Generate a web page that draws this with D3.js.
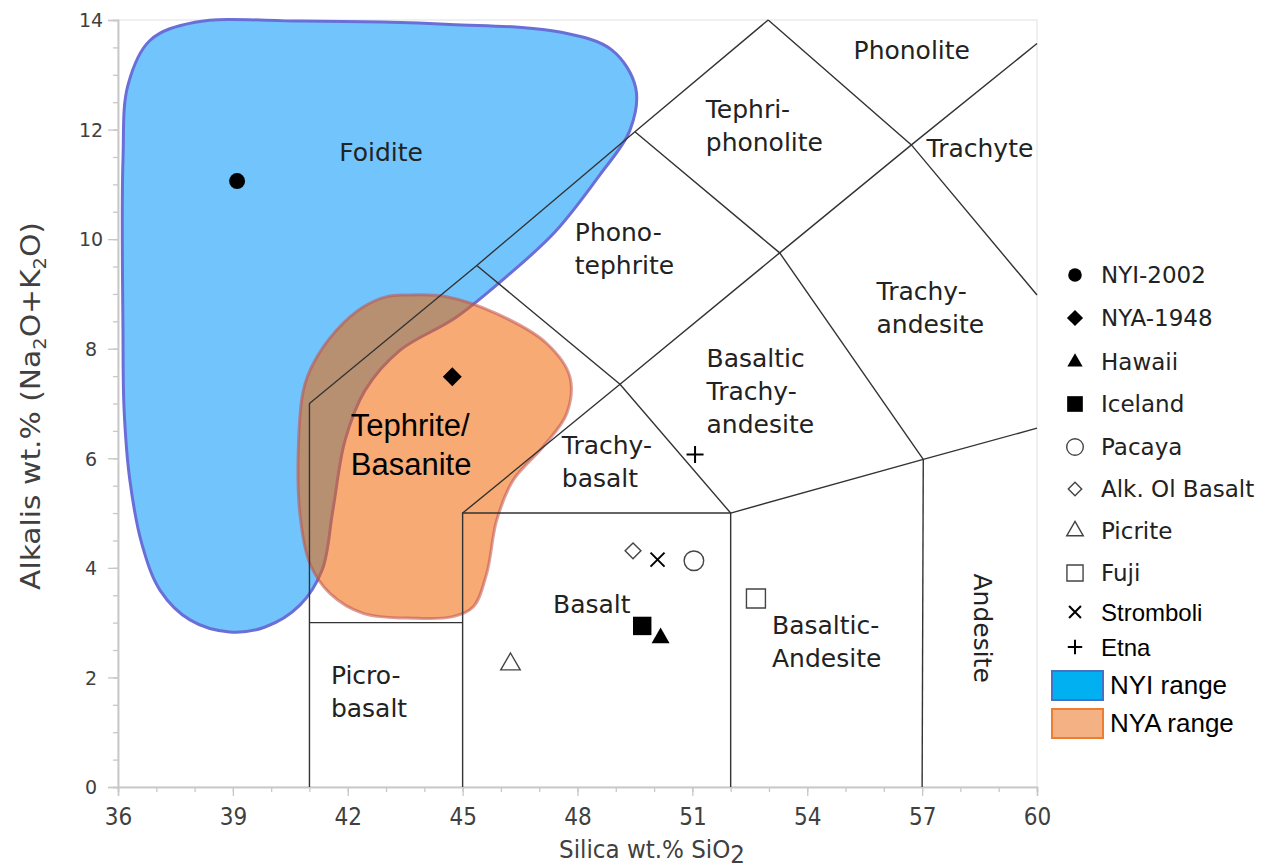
<!DOCTYPE html>
<html>
<head>
<meta charset="utf-8">
<script src="https://cdnjs.cloudflare.com/ajax/libs/d3/7.8.5/d3.min.js"></script>
<style>
  body { margin: 0; background: #fff; }
  svg { display: block; }
</style>
</head>
<body>
<svg id="tas" width="1272" height="868"></svg>
<script>
// axis ticks
var xTicks = [36, 39, 42, 45, 48, 51, 54, 57, 60];
var yTicks = [0, 2, 4, 6, 8, 10, 12, 14];

// TAS field boundaries, [SiO2, Na2O+K2O]
var boundaries = [
  [[41, 0], [41, 7], [45.37, 9.52], [49.5, 11.96], [52.98, 14]],
  [[41, 3], [45, 3]],
  [[45, 0], [45, 5], [52, 5], [52, 0]],
  [[45, 5], [49.11, 7.35], [53.28, 9.75], [56.72, 11.72], [60, 13.57]],
  [[45.37, 9.52], [49.11, 7.35], [52, 5]],
  [[49.5, 11.96], [53.28, 9.75], [57.03, 5.98]],
  [[52.98, 14], [56.72, 11.72], [60, 8.98]],
  [[52, 5], [57.03, 5.98], [60, 6.55]],
  [[57, 0], [57.03, 5.98]]
];

// field names (lines of text) and where they sit, in data units
var fieldNames = [
  ["Foidite"], ["Phonolite"], ["Tephri-", "phonolite"], ["Trachyte"],
  ["Phono-", "tephrite"], ["Trachy-", "andesite"], ["Basaltic", "Trachy-", "andesite"],
  ["Trachy-", "basalt"], ["Basalt"], ["Picro-", "basalt"], ["Basaltic-", "Andesite"]
];
var fieldPos = [
  [42.87, 11.42, "middle"], [56.73, 13.28, "middle"], [51.35, 12.21, "start"], [58.51, 11.5, "middle"],
  [47.93, 9.97, "start"], [55.81, 8.89, "start"], [51.37, 7.66, "start"],
  [47.59, 6.08, "start"], [47.36, 3.18, "start"], [41.56, 1.88, "start"], [53.08, 2.79, "start"]
];

// samples
var sampleNames = ["NYI-2002", "NYA-1948", "Hawaii", "Iceland", "Pacaya",
                   "Alk. Ol Basalt", "Picrite", "Fuji", "Stromboli", "Etna"];
var silica = [39.11, 44.73, 50.17, 49.69, 51.04, 49.45, 46.25, 52.66, 50.09, 51.07];
var alkalis = [11.06, 7.49, 2.72, 2.94, 4.13, 4.31, 2.24, 3.44, 4.15, 6.07];
var shapes = ["circle", "diamond", "triangle", "square", "ocircle",
              "odiamond", "otriangle", "osquare", "times", "plus"];

// outlines of the two ranges
var nyiRange = [
  [36.13, 8.34], [36.13, 11.44], [36.26, 12.81], [36.84, 13.63], [38.01, 13.96],
  [40.75, 13.98], [44.67, 13.92], [47.54, 13.78], [48.90, 13.45], [49.52, 12.76],
  [49.37, 11.99], [48.58, 11.17], [47.41, 10.13], [46.10, 9.29], [44.80, 8.56],
  [43.36, 7.97], [42.45, 7.24], [41.93, 6.33], [41.61, 5.05], [41.33, 3.96],
  [40.75, 3.32], [39.84, 2.92], [38.92, 2.83], [37.88, 3.05], [37.10, 3.59],
  [36.63, 4.42], [36.31, 5.60], [36.16, 6.88]
];
var nyaRange = [
  [43.54, 8.98], [44.58, 8.95], [45.89, 8.64], [47.19, 8.10], [47.80, 7.49],
  [47.72, 6.82], [47.10, 6.21], [46.32, 5.60], [45.89, 4.87], [45.63, 3.90],
  [45.28, 3.29], [44.75, 3.11], [43.71, 3.08], [42.40, 3.17], [41.54, 3.53],
  [41.01, 4.08], [40.75, 4.99], [40.71, 6.21], [40.84, 7.24], [41.10, 7.73],
  [41.71, 8.34], [42.40, 8.76], [43.02, 8.95]
];

var svg = d3.select("#tas");
var x = d3.scaleLinear().domain([36, 60]).range([118, 1037]);
var y = d3.scaleLinear().domain([0, 14]).range([787, 20]);

var axisColor = "#c8c8c8";
var verdana = "'DejaVu Sans', Verdana, sans-serif";
var narrow = "'Liberation Sans Narrow', 'Arial Narrow', 'DejaVu Sans Condensed', sans-serif";

// frame
svg.append("rect")
    .attr("x", x(36)).attr("y", y(14))
    .attr("width", x(60) - x(36)).attr("height", y(0) - y(14))
    .attr("fill", "none").attr("stroke", "#e0e0e0");

// ranges
var blob = d3.line()
    .x(d => x(d[0])).y(d => y(d[1]))
    .curve(d3.curveCatmullRomClosed.alpha(0.5));

svg.append("path")
    .attr("d", blob(nyiRange))
    .attr("fill", "#72c5fc")
    .attr("stroke", "#6a6fd8")
    .attr("stroke-width", 3);

svg.append("path")
    .attr("d", blob(nyaRange))
    .attr("fill", "#f06400")
    .attr("fill-opacity", 0.55)
    .attr("stroke", "#c0504d")
    .attr("stroke-opacity", 0.55)
    .attr("stroke-width", 3);

// axes
function styleAxis(g) {
  g.select(".domain").attr("stroke", axisColor).attr("stroke-width", 1.5);
  g.selectAll(".tick line").attr("stroke", axisColor).attr("stroke-width", 1.3);
}

svg.append("g")
    .attr("transform", "translate(" + x(36) + ",0)")
    .call(d3.axisLeft(y).tickValues(d3.range(0, 14.01, 0.5)).tickSize(5).tickFormat(""))
    .call(styleAxis);
var yAxis = svg.append("g")
    .attr("transform", "translate(" + x(36) + ",0)")
    .call(d3.axisLeft(y).tickValues(yTicks).tickSize(10))
    .call(styleAxis);
yAxis.selectAll(".tick text")
    .attr("x", -27).attr("dy", "0.36em")
    .attr("text-anchor", "middle")
    .attr("font-family", verdana).attr("font-size", 19)
    .attr("fill", "#404040");

svg.append("g")
    .attr("transform", "translate(0," + y(0) + ")")
    .call(d3.axisBottom(x).tickValues(d3.range(36, 60.01, 1)).tickSize(5).tickFormat(""))
    .call(styleAxis);
var xAxis = svg.append("g")
    .attr("transform", "translate(0," + y(0) + ")")
    .call(d3.axisBottom(x).tickValues(xTicks).tickSize(9))
    .call(styleAxis);
xAxis.selectAll(".tick text")
    .attr("y", 21).attr("dy", "0.71em")
    .attr("font-family", narrow).attr("font-size", 24)
    .attr("fill", "#404040");

// field boundaries
var edge = d3.line().x(d => x(d[0])).y(d => y(d[1]));
svg.append("g")
  .selectAll("path")
  .data(boundaries)
  .enter()
    .append("path")
    .attr("d", edge)
    .attr("fill", "none")
    .attr("stroke", "#333")
    .attr("stroke-width", 1.4);

// field labels
var labels = svg.append("g")
    .attr("font-family", verdana)
    .attr("font-size", 25)
    .attr("fill", "#222");

labels.selectAll("text")
  .data(fieldNames)
  .enter()
    .append("text")
    .attr("x", (d, i) => x(fieldPos[i][0]))
    .attr("y", (d, i) => y(fieldPos[i][1]))
    .attr("text-anchor", (d, i) => fieldPos[i][2])
    .each(function(d, i) {
      var t = d3.select(this);
      d.forEach((line, j) => {
        t.append("tspan")
          .attr("x", x(fieldPos[i][0]))
          .attr("dy", j === 0 ? 0 : 33)
          .text(line);
      });
    });

labels.append("text")
    .attr("transform", "translate(" + x(58.58) + "," + y(2.9) + ") rotate(90)")
    .attr("text-anchor", "middle")
    .attr("dy", "0.35em")
    .text("Andesite");

var tb = svg.append("text")
    .attr("font-family", "'Liberation Sans', Arial, sans-serif")
    .attr("font-size", 31)
    .attr("fill", "#000");
tb.append("tspan").attr("x", x(42.08)).attr("y", y(6.4)).text("Tephrite/");
tb.append("tspan").attr("x", x(42.08)).attr("y", y(6.4) + 39).text("Basanite");

// markers
function markerPath(shape, k) {
  var sym = d3.symbol();
  if (shape === "circle") return sym.type(d3.symbolCircle).size(200 * k * k)();
  if (shape === "ocircle") return sym.type(d3.symbolCircle).size(300 * k * k)();
  if (shape === "triangle") return sym.type(d3.symbolTriangle).size(140 * k * k)();
  if (shape === "otriangle") return sym.type(d3.symbolTriangle).size(165 * k * k)();
  if (shape === "square" || shape === "diamond") return sym.type(d3.symbolSquare).size((shape === "square" ? 340 : 180) * k * k)();
  if (shape === "osquare") return sym.type(d3.symbolSquare).size(360 * k * k)();
  if (shape === "odiamond") return sym.type(d3.symbolSquare).size(125 * k * k)();
  var r = (shape === "times" ? 7 : 8.5) * k;
  if (shape === "times") return "M" + -r + "," + -r + "L" + r + "," + r + "M" + -r + "," + r + "L" + r + "," + -r;
  return "M" + -r + ",0L" + r + ",0M0," + -r + "L0," + r;
}

function drawMarker(sel, shape, k) {
  var open = shape[0] === "o";
  var line = shape === "times" || shape === "plus";
  var rot = (shape === "diamond" || shape === "odiamond") ? " rotate(45)" : "";
  sel.append("path")
    .attr("transform", sel.attr("data-t") + rot)
    .attr("d", markerPath(shape, k))
    .attr("fill", open || line ? "none" : "#000")
    .attr("stroke", line ? "#000" : (open ? "#444" : "none"))
    .attr("stroke-width", line ? 2 : 1.4);
}

var points = svg.append("g");
sampleNames.forEach((name, i) => {
  var g = points.append("g").attr("data-t", "translate(" + x(silica[i]) + "," + y(alkalis[i]) + ")");
  drawMarker(g, shapes[i], 1);
});

// legend
var legendY = [275, 318, 362, 404, 447, 489, 531, 573, 612, 647];
var legend = svg.append("g");
sampleNames.forEach((name, i) => {
  var g = legend.append("g").attr("data-t", "translate(1075," + legendY[i] + ")");
  drawMarker(g, shapes[i], 0.85);
  legend.append("text")
    .attr("x", 1101).attr("y", legendY[i]).attr("dy", "0.36em")
    .attr("font-family", i < 8 ? verdana : "'Liberation Sans', Arial, sans-serif")
    .attr("font-size", i < 8 ? 23 : 24)
    .attr("fill", i < 8 ? "#222" : "#000")
    .text(name);
});

var rangeNames = ["NYI range", "NYA range"];
var rangeFill = ["#00b0f0", "#f4b183"];
var rangeStroke = ["#4472c4", "#ed7d31"];
var rangeY = [685, 723];
rangeNames.forEach((name, i) => {
  legend.append("rect")
    .attr("x", 1052).attr("y", rangeY[i] - 14)
    .attr("width", 51).attr("height", 29)
    .attr("fill", rangeFill[i]).attr("stroke", rangeStroke[i]).attr("stroke-width", 2);
  legend.append("text")
    .attr("x", 1110).attr("y", rangeY[i]).attr("dy", "0.36em")
    .attr("font-family", "'Liberation Sans', Arial, sans-serif")
    .attr("font-size", 26)
    .text(name);
});

// axis titles, squeezed to the reference width
function fit(sel, w) {
  var len = sel.node().getComputedTextLength();
  return w / len;
}

var yTitle = svg.append("text")
    .attr("font-family", narrow).attr("font-size", 26)
    .attr("fill", "#404040")
    .attr("text-anchor", "middle");
yTitle.append("tspan").text("Alkalis wt.% (Na");
yTitle.append("tspan").attr("font-size", 17).attr("dy", 6).text("2");
yTitle.append("tspan").attr("dy", -6).text("O+K");
yTitle.append("tspan").attr("font-size", 17).attr("dy", 6).text("2");
yTitle.append("tspan").attr("dy", -6).text("O)");
var ky = fit(yTitle, 368);
yTitle.attr("transform", "translate(40,406) rotate(-90) scale(" + ky + ",1)");

var xTitle = svg.append("text")
    .attr("font-family", narrow).attr("font-size", 25)
    .attr("fill", "#404040")
    .attr("text-anchor", "middle");
xTitle.append("tspan").text("Silica wt.% SiO");
xTitle.append("tspan").attr("font-size", 25).attr("dy", 5).text("2");
var kx = fit(xTitle, 186);
xTitle.attr("transform", "translate(652,858) scale(" + kx + ",1)");
</script>
</body>
</html>
